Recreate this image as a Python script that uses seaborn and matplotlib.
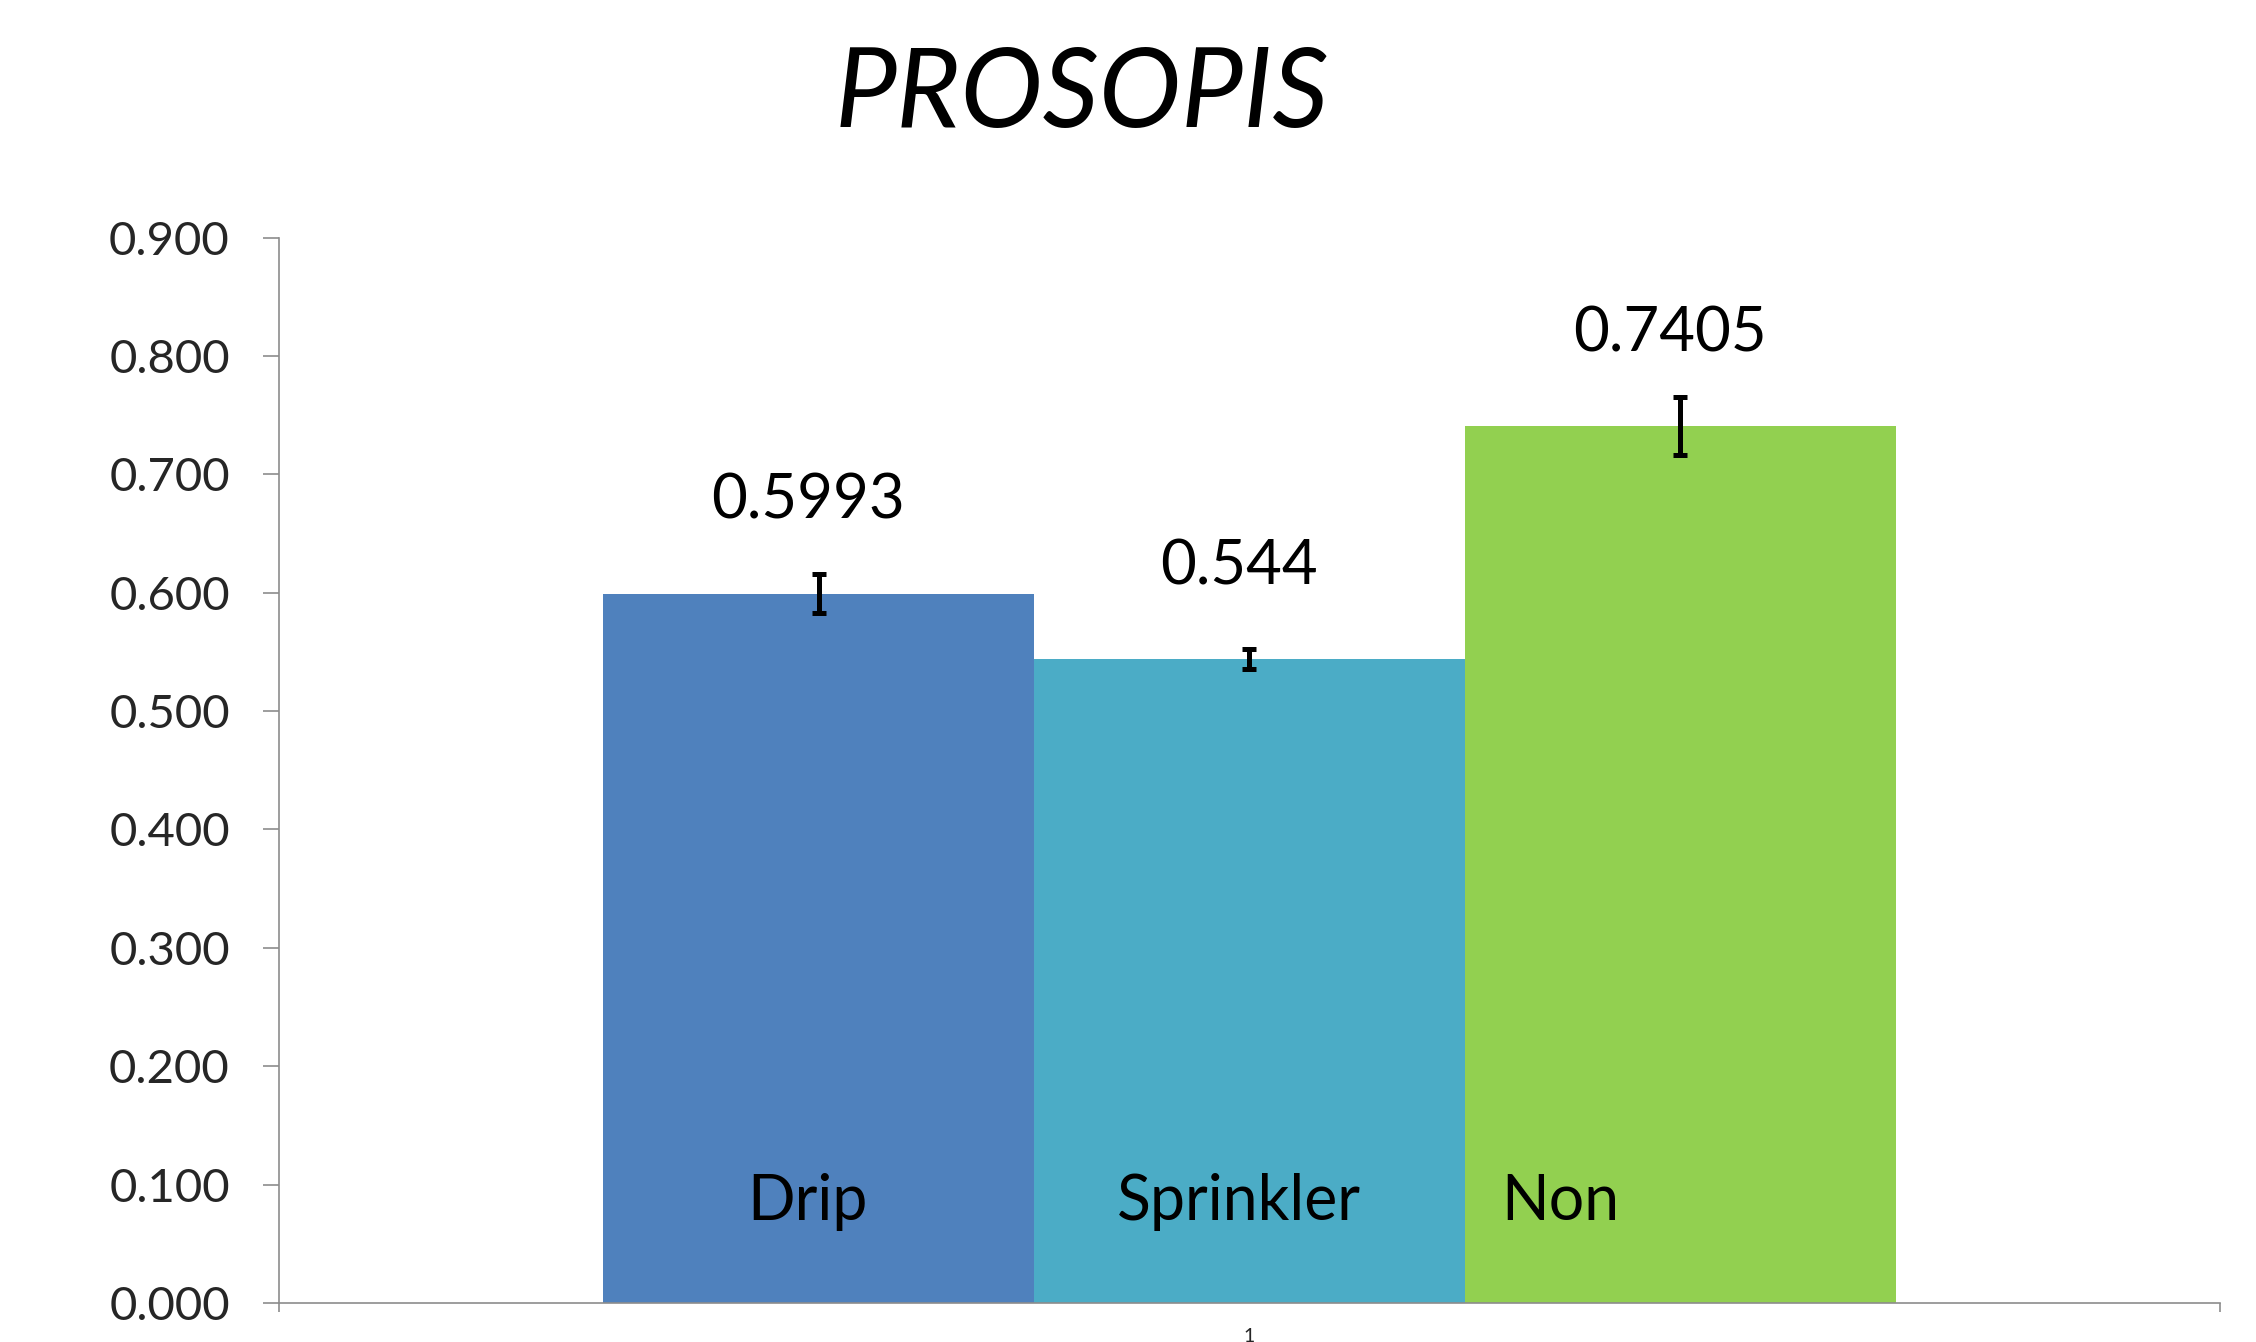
import pandas as pd
import numpy as np
import matplotlib
matplotlib.use("Agg")
import matplotlib.pyplot as plt
import seaborn as sns

# dados
grupo = ["1", "1", "1"]
sistemas = ["Drip", "Sprinkler", "Non"]
valores = [0.5993, 0.544, 0.7405]
erros = [0.0165, 0.0085, 0.0245]
rotulos_valor = ["0.5993", "0.544", "0.7405"]
cores = ["#4F81BD", "#4BACC6", "#92D050"]
alinhamento = ["center", "center", "left"]

df = pd.DataFrame({"grupo": grupo, "sistema": sistemas, "valor": valores})

sns.set_style("white")
plt.rcParams["font.family"] = ["Lato", "DejaVu Sans"]

fig = plt.figure(figsize=(22.56, 13.42), dpi=100)
ax = fig.add_axes([0.1237, 0.0291, 0.8603, 0.7939])

sns.barplot(data=df, x="grupo", y="valor", hue="sistema", hue_order=sistemas,
            palette=cores, width=0.666, errorbar=None, legend=False, ax=ax,
            saturation=1, linewidth=0)

# barras de erro e rotulos
barras = sorted(ax.patches, key=lambda p: p.get_x())
for i, p in enumerate(barras):
    cx = p.get_x() + p.get_width() / 2
    desloc = 0.025 * p.get_width()
    ax.errorbar(cx, valores[i], yerr=erros[i], fmt="none", ecolor="black",
                elinewidth=3.6, capsize=4.7, capthick=3.6, zorder=5)
    ax.text(cx - desloc, valores[i] + 0.063, rotulos_valor[i], ha="center", va="baseline",
            fontsize=44.5, color="black")
    if alinhamento[i] == "left":
        tx = p.get_x() + 0.085 * p.get_width()
    else:
        tx = cx - desloc
    ax.text(tx, 0.070, sistemas[i], ha=alinhamento[i], va="baseline",
            fontsize=45, color="black", zorder=6)

ax.set_xlim(-0.5, 0.5)
ax.set_ylim(0, 0.9)
ax.set_yticks(np.arange(0, 0.91, 0.1))
ax.set_yticklabels([f"{v:.3f}" for v in np.arange(0, 0.91, 0.1)])
ax.set_xlabel("")
ax.set_ylabel("")

cinza = "#8C8C8C"
for lado in ["top", "right"]:
    ax.spines[lado].set_visible(False)
for lado in ["left", "bottom"]:
    ax.spines[lado].set_color(cinza)
    ax.spines[lado].set_linewidth(1.2)

ax.tick_params(axis="y", length=11.5, width=1.2, color=cinza, labelsize=34, pad=24,
               left=True)
ax.tick_params(axis="x", which="major", length=0, labelsize=14, pad=18)
ax.set_xticks([-0.5, 0.5], minor=True)
ax.tick_params(axis="x", which="minor", length=6.5, width=1.2, color=cinza, bottom=True)

fig.text(0.4795, 0.9054, "PROSOPIS", ha="center", va="baseline", fontsize=79.5,
         style="italic", color="black")

fig.savefig("out.png", dpi=100)
